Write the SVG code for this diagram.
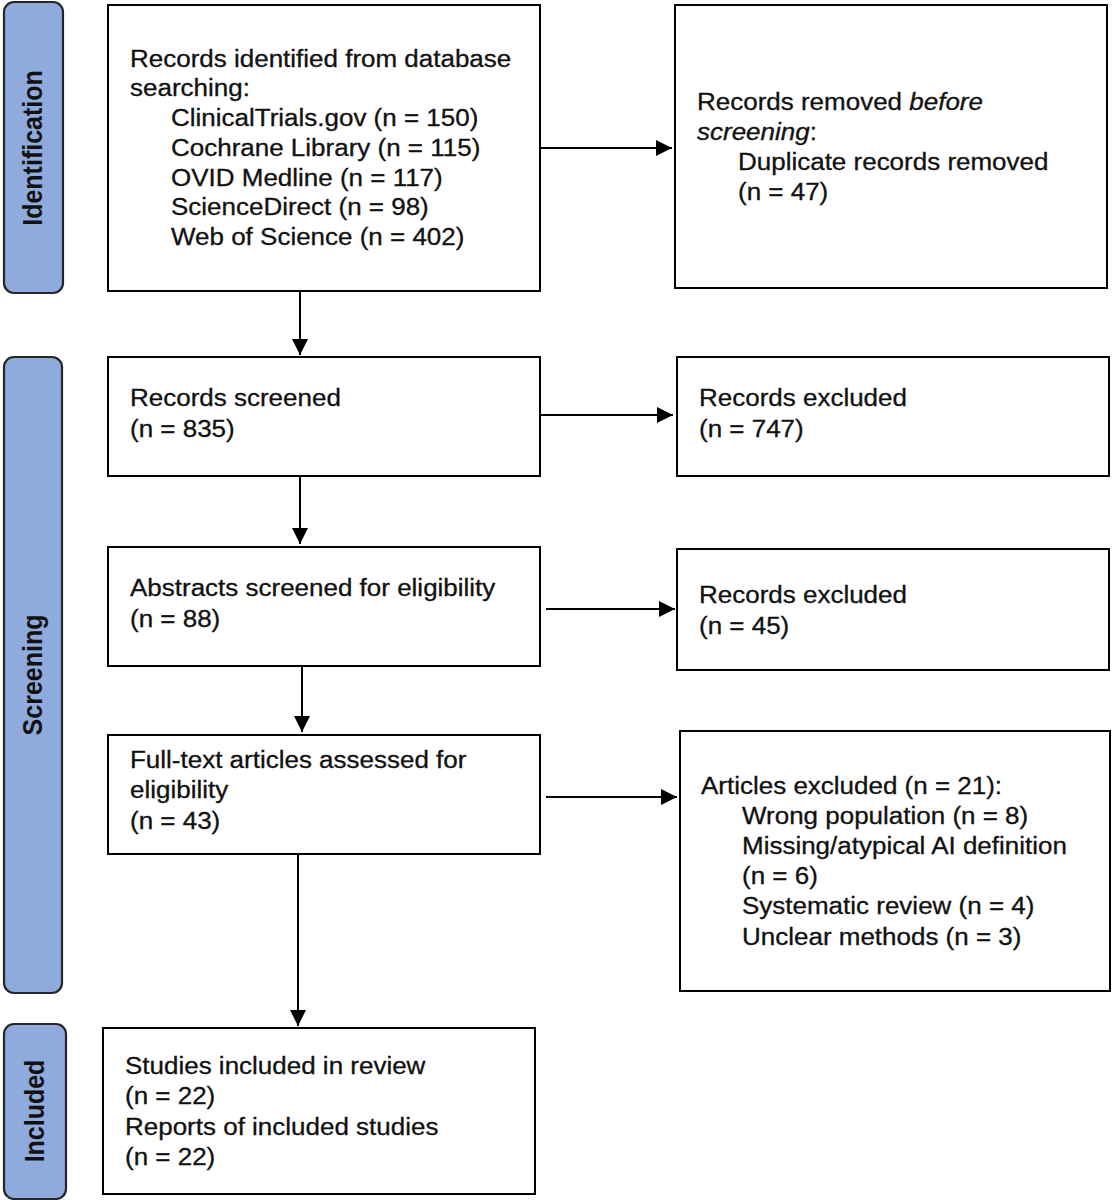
<svg xmlns="http://www.w3.org/2000/svg" width="1113" height="1200" viewBox="0 0 1113 1200">
<style>
.bar{fill:#8FAADC;stroke:#262626;stroke-width:2.2}
.box{fill:#fff;stroke:#000;stroke-width:2}
.t{font-family:"Liberation Sans",Arial,sans-serif;font-size:23px;fill:#111;stroke:#111;stroke-width:0.3}
.lbl{font-family:"Liberation Sans",Arial,sans-serif;font-size:25px;font-weight:bold;fill:#111;text-anchor:middle}
.c{stroke:#000;stroke-width:2;fill:none}
</style>
<defs>
<marker id="ah" markerUnits="userSpaceOnUse" markerWidth="18" markerHeight="16" refX="16" refY="8" orient="auto">
<path d="M0,0 L16,8 L0,16 Z" fill="#000"/>
</marker>
</defs>
<rect width="1113" height="1200" fill="#fff"/>

<g id="stage-identification">
<rect class="bar" x="4" y="2" width="59" height="291" rx="10"/>
<text class="lbl" transform="translate(42,148) rotate(-90) scale(1,1.1)">Identification</text>
</g>
<g id="stage-screening">
<rect class="bar" x="4" y="357" width="58" height="636" rx="10"/>
<text class="lbl" transform="translate(42,675) rotate(-90) scale(1,1.1)">Screening</text>
</g>
<g id="stage-included">
<rect class="bar" x="4" y="1024" width="62" height="175" rx="10"/>
<text class="lbl" transform="translate(44,1111) rotate(-90) scale(1,1.1)">Included</text>
</g>

<g id="connectors">
<line class="c" x1="540" y1="148" x2="672" y2="148" marker-end="url(#ah)"/>
<line class="c" x1="300" y1="291" x2="300" y2="355" marker-end="url(#ah)"/>
<line class="c" x1="540" y1="415" x2="673" y2="415" marker-end="url(#ah)"/>
<line class="c" x1="300" y1="476" x2="300" y2="544" marker-end="url(#ah)"/>
<line class="c" x1="546" y1="609" x2="675" y2="609" marker-end="url(#ah)"/>
<line class="c" x1="302" y1="666" x2="302" y2="732" marker-end="url(#ah)"/>
<line class="c" x1="546" y1="797" x2="677" y2="797" marker-end="url(#ah)"/>
<line class="c" x1="298" y1="854" x2="298" y2="1026" marker-end="url(#ah)"/>
</g>

<g id="identified">
<rect class="box" x="108" y="5" width="432" height="286"/>
<text class="t" transform="translate(130,0) scale(1.13,1)">
<tspan x="0" y="67">Records identified from database</tspan>
<tspan x="0" y="96.5">searching:</tspan>
<tspan x="36.3" y="126">ClinicalTrials.gov (n = 150)</tspan>
<tspan x="36.3" y="156">Cochrane Library (n = 115)</tspan>
<tspan x="36.3" y="186">OVID Medline (n = 117)</tspan>
<tspan x="36.3" y="215">ScienceDirect (n = 98)</tspan>
<tspan x="36.3" y="245">Web of Science (n = 402)</tspan>
</text>
</g>

<g id="removed">
<rect class="box" x="675" y="5" width="432" height="283"/>
<text class="t" transform="translate(697,0) scale(1.13,1)">
<tspan x="0" y="110">Records removed <tspan font-style="italic">before</tspan></tspan>
<tspan x="0" y="140"><tspan font-style="italic">screening</tspan>:</tspan>
<tspan x="36.3" y="170">Duplicate records removed</tspan>
<tspan x="36.3" y="200">(n = 47)</tspan>
</text>
</g>

<g id="screened">
<rect class="box" x="108" y="357" width="432" height="119"/>
<text class="t" transform="translate(130,0) scale(1.13,1)">
<tspan x="0" y="406">Records screened</tspan>
<tspan x="0" y="437">(n = 835)</tspan>
</text>
</g>

<g id="excluded1">
<rect class="box" x="677" y="357" width="432" height="119"/>
<text class="t" transform="translate(699,0) scale(1.13,1)">
<tspan x="0" y="406">Records excluded</tspan>
<tspan x="0" y="437">(n = 747)</tspan>
</text>
</g>

<g id="abstracts">
<rect class="box" x="108" y="547" width="432" height="119"/>
<text class="t" transform="translate(130,0) scale(1.13,1)">
<tspan x="0" y="596">Abstracts screened for eligibility</tspan>
<tspan x="0" y="627">(n = 88)</tspan>
</text>
</g>

<g id="excluded2">
<rect class="box" x="677" y="549" width="432" height="121"/>
<text class="t" transform="translate(699,0) scale(1.13,1)">
<tspan x="0" y="603">Records excluded</tspan>
<tspan x="0" y="634">(n = 45)</tspan>
</text>
</g>

<g id="fulltext">
<rect class="box" x="108" y="735" width="432" height="119"/>
<text class="t" transform="translate(130,0) scale(1.13,1)">
<tspan x="0" y="768">Full-text articles assessed for</tspan>
<tspan x="0" y="798">eligibility</tspan>
<tspan x="0" y="829">(n = 43)</tspan>
</text>
</g>

<g id="excluded3">
<rect class="box" x="680" y="731" width="430" height="260"/>
<text class="t" transform="translate(701,0) scale(1.13,1)">
<tspan x="0" y="794">Articles excluded (n = 21):</tspan>
<tspan x="36.3" y="824">Wrong population (n = 8)</tspan>
<tspan x="36.3" y="854">Missing/atypical AI definition</tspan>
<tspan x="36.3" y="884">(n = 6)</tspan>
<tspan x="36.3" y="914">Systematic review (n = 4)</tspan>
<tspan x="36.3" y="945">Unclear methods (n = 3)</tspan>
</text>
</g>

<g id="included">
<rect class="box" x="103" y="1028" width="432" height="166"/>
<text class="t" transform="translate(125,0) scale(1.13,1)">
<tspan x="0" y="1074">Studies included in review</tspan>
<tspan x="0" y="1104">(n = 22)</tspan>
<tspan x="0" y="1135">Reports of included studies</tspan>
<tspan x="0" y="1165">(n = 22)</tspan>
</text>
</g>
</svg>
